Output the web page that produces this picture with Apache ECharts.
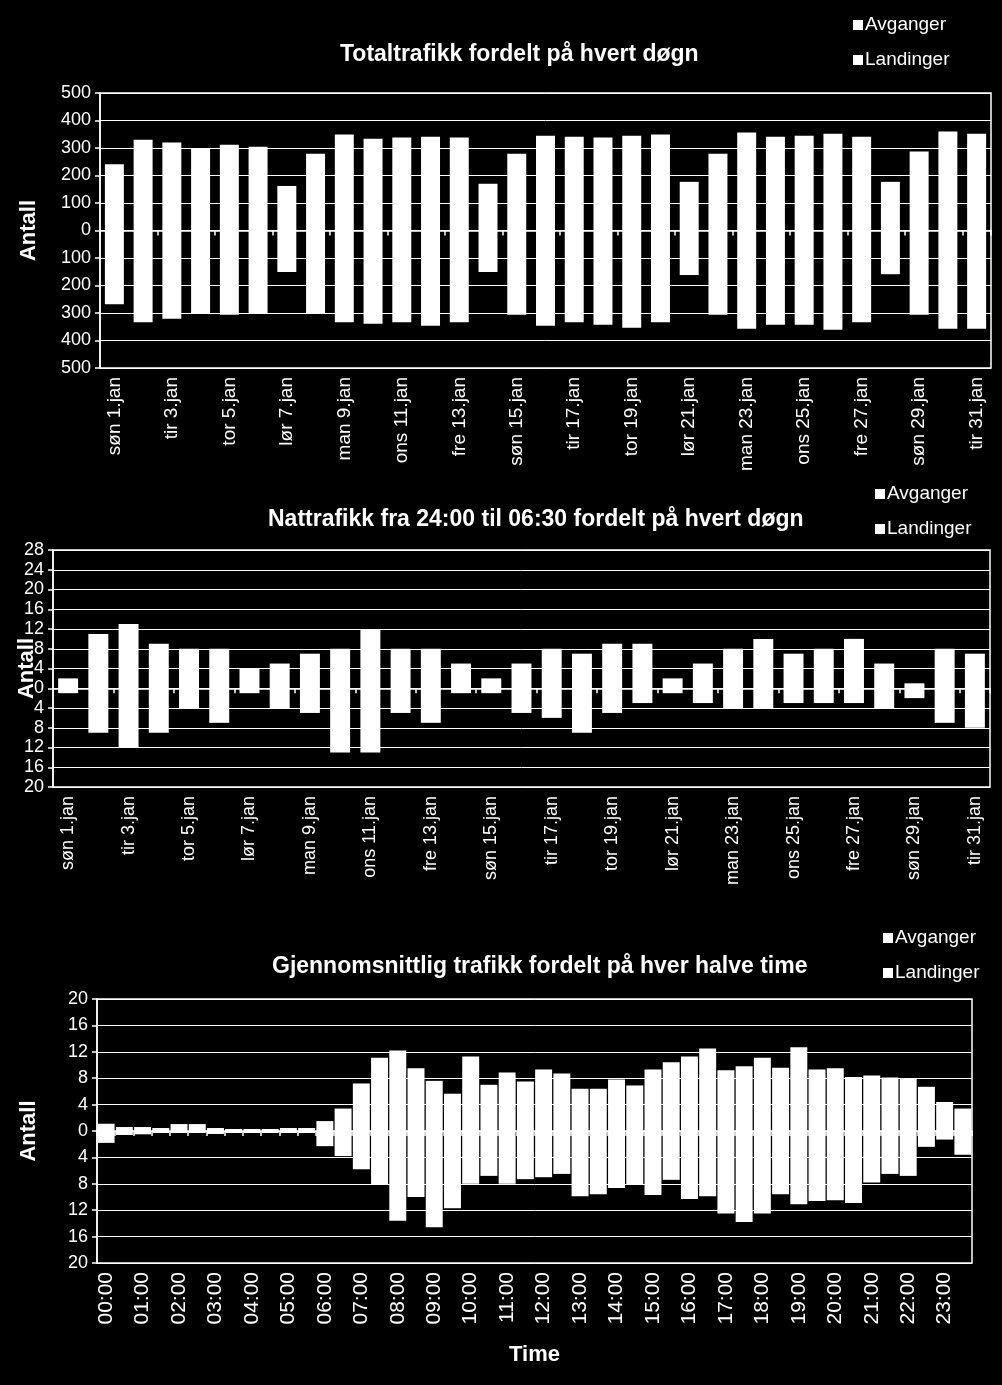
<!DOCTYPE html>
<html>
<head>
<meta charset="utf-8">
<script src="https://cdn.jsdelivr.net/npm/echarts@6/dist/echarts.min.js"></script>
<style>
html,body{margin:0;padding:0;background:#000;}
#c{width:1002px;height:1385px;}
</style>
</head>
<body>
<div id="c"></div>
<script>
// ---- Data ----
const days = ['søn 1.jan','man 2.jan','tir 3.jan','ons 4.jan','tor 5.jan','fre 6.jan','lør 7.jan','søn 8.jan','man 9.jan','tir 10.jan','ons 11.jan','tor 12.jan','fre 13.jan','lør 14.jan','søn 15.jan','man 16.jan','tir 17.jan','ons 18.jan','tor 19.jan','fre 20.jan','lør 21.jan','søn 22.jan','man 23.jan','tir 24.jan','ons 25.jan','tor 26.jan','fre 27.jan','lør 28.jan','søn 29.jan','man 30.jan','tir 31.jan'];
const totalAvganger = [241,330,320,300,312,305,162,279,349,334,338,341,338,170,279,345,341,338,345,349,177,279,356,341,345,352,341,177,287,360,352];
const totalLandinger = [268,334,321,300,306,300,151,300,334,339,334,346,334,151,306,346,334,343,354,334,162,306,357,343,343,361,334,159,306,357,357];
const nightAvganger = [2,11,13,9,8,8,4,5,7,8,12,8,8,5,2,5,8,7,9,9,2,5,8,10,7,8,10,5,1,8,7];
const nightLandinger = [1,9,12,9,4,7,1,4,5,13,13,5,7,1,1,5,6,9,5,3,1,3,4,4,3,3,3,4,2,7,8];
const halfHours = ['00:00','00:30','01:00','01:30','02:00','02:30','03:00','03:30','04:00','04:30','05:00','05:30','06:00','06:30','07:00','07:30','08:00','08:30','09:00','09:30','10:00','10:30','11:00','11:30','12:00','12:30','13:00','13:30','14:00','14:30','15:00','15:30','16:00','16:30','17:00','17:30','18:00','18:30','19:00','19:30','20:00','20:30','21:00','21:30','22:00','22:30','23:00','23:30'];
const avgAvganger = [1.1,0.6,0.6,0.45,1.05,1.05,0.45,0.3,0.3,0.3,0.45,0.45,1.5,3.4,7.2,11.1,12.2,9.5,7.6,5.65,11.3,7.0,8.85,7.5,9.3,8.7,6.4,6.4,7.8,6.9,9.3,10.4,11.3,12.5,9.2,9.8,11.1,9.6,12.7,9.3,9.5,8.2,8.4,8.1,7.9,6.7,4.4,3.4];
const avgLandinger = [1.8,0.6,0.5,0.3,0.3,0.3,0.45,0.3,0.3,0.3,0.3,0.3,2.3,3.8,5.8,8.2,13.6,10.0,14.6,11.7,8.0,6.8,8.0,7.3,7.0,6.5,9.9,9.6,8.65,8.2,9.7,7.4,10.3,9.9,12.5,13.8,12.5,9.6,11.1,10.6,10.5,10.9,7.8,6.5,6.8,2.4,1.3,3.6];
const titles = ['Totaltrafikk fordelt på hvert døgn','Nattrafikk fra 24:00 til 06:30 fordelt på hvert døgn','Gjennomsnittlig trafikk fordelt på hver halve time'];

// ---- Chart ----
const FONT = "'Liberation Sans', Arial, sans-serif";
const W = '#ffffff';
const chart = echarts.init(document.getElementById('c'), null, {renderer:'canvas'});

function yAxis(gi, min, max, interval, nameGap){
  return {
    type:'value', gridIndex:gi, min:min, max:max, interval:interval,
    name:'Antall', nameLocation:'middle', nameGap:nameGap, nameRotate:90,
    nameMoveOverlap:false,
    nameTextStyle:{color:W, fontFamily:FONT, fontSize:22, fontWeight:'bold'},
    axisLine:{show:true, lineStyle:{color:W, width:1.5}},
    axisTick:{show:true, length:5, lineStyle:{color:W, width:1.5}},
    axisLabel:{color:W, fontFamily:FONT, fontSize:18, margin:9, formatter:v=>String(Math.abs(v))},
    splitLine:{show:true, lineStyle:{color:W, width:1}}
  };
}
function xAxis(gi, data, tickInt, fs, extra){
  return Object.assign({
    type:'category', gridIndex:gi, data:data, boundaryGap:true,
    axisLine:{show:true, lineStyle:{color:W, width:1.5}},
    axisTick:{show:true, interval:tickInt, length:5, lineStyle:{color:W, width:1.5}},
    axisLabel:{color:W, fontFamily:FONT, fontSize:fs, rotate:90, interval:1, margin:9},
    splitLine:{show:false}
  }, extra||{});
}
function legend(left, top){
  return {
    left:left, top:top, orient:'vertical', itemGap:15, itemWidth:10, itemHeight:10,
    icon:'rect', data:['Avganger','Landinger'], selectedMode:false,
    textStyle:{color:W, fontFamily:FONT, fontSize:19, lineHeight:20, padding:[0,0,0,-3]}
  };
}
function pair(gi, av, la, gap){
  return [
    {name:'Avganger', type:'bar', stack:'s'+gi, xAxisIndex:gi, yAxisIndex:gi, data:av,
     barCategoryGap:gap, itemStyle:{color:W}, animation:false},
    {name:'Landinger', type:'bar', stack:'s'+gi, xAxisIndex:gi, yAxisIndex:gi, data:la.map(v=>-v),
     barCategoryGap:gap, itemStyle:{color:W}, animation:false}
  ];
}

const option = {
  backgroundColor:'#000',
  animation:false,
  title:[
    {text:titles[0], left:335, top:38, textStyle:{color:W, fontFamily:FONT, fontSize:23, fontWeight:'bold'}},
    {text:titles[1], left:263, top:503, textStyle:{color:W, fontFamily:FONT, fontSize:23, fontWeight:'bold'}},
    {text:titles[2], left:267, top:950, textStyle:{color:W, fontFamily:FONT, fontSize:23, fontWeight:'bold'}}
  ],
  legend:[legend(848,10), legend(870,479), legend(878,923)],
  grid:[
    {left:100, top:93, width:891, height:275, show:true, borderColor:W, borderWidth:1.5, backgroundColor:'transparent'},
    {left:53, top:550, width:937, height:237, show:true, borderColor:W, borderWidth:1.5, backgroundColor:'transparent'},
    {left:97, top:999, width:875, height:264, show:true, borderColor:W, borderWidth:1.5, backgroundColor:'transparent'}
  ],
  xAxis:[
    xAxis(0, days, 1, 19),
    xAxis(1, days, 1, 18),
    xAxis(2, halfHours, 0, 21, {name:'Time', nameLocation:'middle', nameGap:81,
      nameTextStyle:{color:W, fontFamily:FONT, fontSize:22, fontWeight:'bold'}})
  ],
  yAxis:[
    yAxis(0, -500, 500, 100, 60),
    yAxis(1, -20, 28, 4, 15),
    yAxis(2, -20, 20, 4, 57)
  ],
  series:[].concat(
    pair(0, totalAvganger, totalLandinger, '34%'),
    pair(1, nightAvganger, nightLandinger, '34%'),
    pair(2, avgAvganger, avgLandinger, '7%')
  )
};
chart.setOption(option);
</script>
</body>
</html>
